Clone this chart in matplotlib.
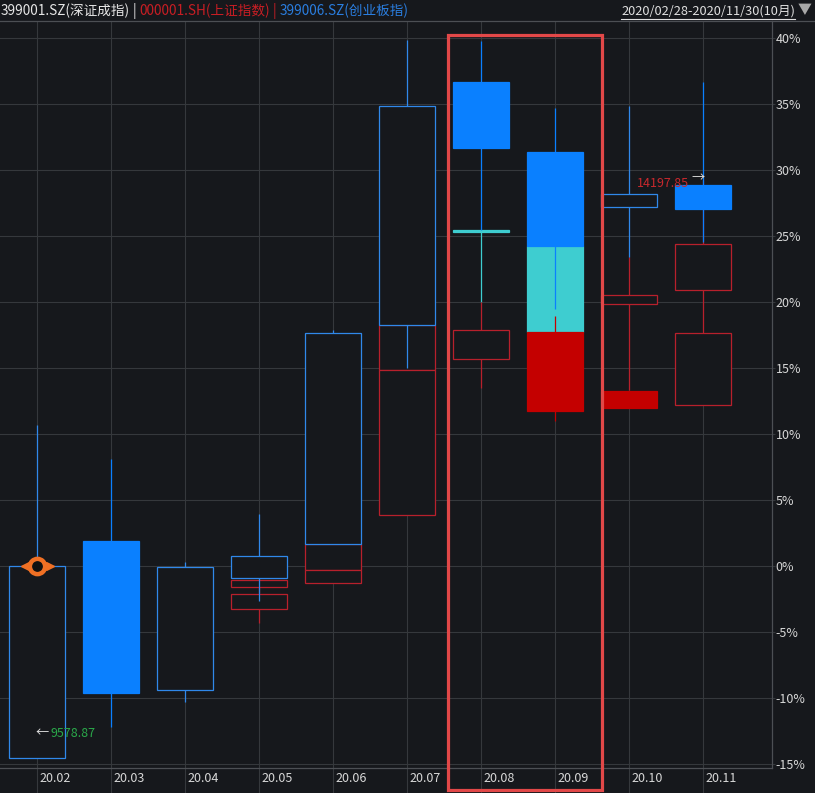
import numpy as np
import matplotlib
matplotlib.use('Agg')
import matplotlib.pyplot as plt
import matplotlib.transforms as mtransforms
from matplotlib.patches import Rectangle
from matplotlib.lines import Line2D

plt.rcParams['font.family'] = ['Noto Sans CJK SC', 'DejaVu Sans']

nan = np.nan
months = ['20.02', '20.03', '20.04', '20.05', '20.06', '20.07', '20.08', '20.09', '20.10', '20.11']

# 399006.SZ 创业板指 (% 涨跌幅)
cy_open = [-14.5, 1.9, -9.4, -0.85, 1.7, 18.3, 36.7, 31.4, 27.2, 28.9]
cy_close = [0.0, -9.6, -0.05, 0.75, 17.7, 34.9, 31.7, 24.3, 28.2, 27.1]
cy_high = [10.7, 8.1, 0.3, 4.0, 17.9, 39.9, 39.8, 34.7, 34.9, 36.7]
cy_low = [-14.5, -12.2, -10.3, -2.6, 1.7, 15.0, 25.5, 19.5, 23.4, 24.6]

# 000001.SH 上证指数
sh_open = [nan, nan, nan, -3.2, -1.3, 3.9, 15.7, 17.75, 13.3, 12.2]
sh_close = [nan, nan, nan, -2.1, -0.25, 14.9, 17.9, 11.8, 12.0, 17.7]
sh_high = [nan, nan, nan, -2.1, -0.25, 14.9, 20.05, 19.0, 13.3, 20.9]
sh_low = [nan, nan, nan, -4.3, -1.3, 3.9, 13.5, 11.0, 12.0, 12.2]

# 399001.SZ 深证成指 (主图)
sz_open = [nan, nan, nan, -1.6, -0.25, 14.9, 25.5, 24.3, 19.9, 20.9]
sz_close = [nan, nan, nan, -1.0, 1.7, 18.3, 25.3, 17.75, 20.55, 24.4]
sz_high = [nan, nan, nan, -1.0, 1.7, 18.3, 25.5, 24.3, 23.4, 29.3]
sz_low = [nan, nan, nan, -2.0, -0.25, 14.9, 20.05, 17.75, 13.35, 20.9]

# 最高/最低点标注
ext_month = ['20.11', '20.02']
ext_pct = [29.3, -12.7]
ext_text = ['14197.85', '9578.87']

highlight = ['20.08', '20.09']
yticks = [-15, -10, -5, 0, 5, 10, 15, 20, 25, 30, 35, 40]

BG = '#16181c'
GRID = '#35383c'
AXC = '#4c4f54'

W, H = 815, 793
fig = plt.figure(figsize=(W / 100, H / 100), dpi=100, facecolor=BG)
ax = fig.add_axes([0, 25 / H, 772 / W, (768 - 21) / H])
ax.set_facecolor(BG)

x = np.arange(len(months))
bw = 0.76


def candles(o, c, h, l, up_col, down_col, z):
    for i in range(len(o)):
        if np.isnan(o[i]):
            continue
        lo, hi = min(o[i], c[i]), max(o[i], c[i])
        if c[i] >= o[i]:
            ax.vlines(i, hi, h[i], color=up_col, lw=0.9, zorder=z)
            ax.vlines(i, l[i], lo, color=up_col, lw=0.9, zorder=z)
            ax.bar(i, hi - lo, bottom=lo, width=bw, facecolor=BG, edgecolor=up_col, lw=0.9, zorder=z + 0.5)
        else:
            ax.vlines(i, l[i], h[i], color=down_col, lw=0.9, zorder=z)
            ax.bar(i, hi - lo, bottom=lo, width=bw, facecolor=down_col, edgecolor=down_col, lw=0.9, zorder=z + 0.5)


candles(sz_open, sz_close, sz_high, sz_low, '#b8202c', '#3ecdd0', 2)
candles(sh_open, sh_close, sh_high, sh_low, '#b8202c', '#c40000', 4)
candles(cy_open, cy_close, cy_high, cy_low, '#3088ea', '#0a80ff', 6)

ax.set_xlim(-0.5, (772 - 37) / 74)
ax.set_ylim((566.3 - 768) / 13.2, (566.3 - 21) / 13.2)

ax.set_yticks(yticks)
ax.set_yticklabels([f'{v}%' for v in yticks])
ax.yaxis.tick_right()
ax.tick_params(axis='y', length=2.5, width=0.8, color=GRID, pad=0, labelcolor='#d8d8d8', labelsize=9)
ax.set_xticks(x)
ax.set_xticklabels(months)
ax.tick_params(axis='x', length=18, width=0.8, color=GRID, direction='out', pad=-15,
               labelcolor='#d8d8d8', labelsize=9)
off = mtransforms.ScaledTranslation(1.5 / 72, 0, fig.dpi_scale_trans)
for lab in ax.get_xticklabels():
    lab.set_horizontalalignment('left')
    lab.set_transform(lab.get_transform() + off)
ax.grid(True, color=GRID, lw=0.8, zorder=0)
ax.set_axisbelow(True)
for s in ['left', 'top']:
    ax.spines[s].set_visible(False)
for s in ['bottom', 'right']:
    ax.spines[s].set_color(AXC)
    ax.spines[s].set_linewidth(0.9)

# 基准点标记
ax.plot(0, 0, 'o', ms=11, mfc='#111111', mec='#f07024', mew=3.2, zorder=10)
for dx, m in [(-12.5, '<'), (12.5, '>')]:
    t = ax.transData + mtransforms.ScaledTranslation(dx / 100, 0, fig.dpi_scale_trans)
    ax.plot(0, 0, m, ms=5.5, color='#f07024', transform=t, zorder=10)

# 最高/最低点文字
i_hi = months.index(ext_month[0])
ax.annotate('→', (i_hi, ext_pct[0]), xytext=(1.5, 0.5), textcoords='offset points',
            ha='right', va='center', color='#e0e0e0', fontsize=9.5, zorder=12)
ax.annotate(ext_text[0], (i_hi, ext_pct[0]), xytext=(-10, -3), textcoords='offset points',
            ha='right', va='center', color='#c8282d', fontsize=9, zorder=12)
i_lo = months.index(ext_month[1])
ax.annotate('←', (i_lo, ext_pct[1]), xytext=(-1, 0), textcoords='offset points',
            ha='left', va='center', color='#e0e0e0', fontsize=9.5, zorder=12)
ax.annotate(ext_text[1], (i_lo, ext_pct[1]), xytext=(10, 0), textcoords='offset points',
            ha='left', va='center', color='#2aa84a', fontsize=9, zorder=12)

# 红色框
i0, i1 = months.index(highlight[0]), months.index(highlight[1])
tr = mtransforms.blended_transform_factory(ax.transData, ax.transAxes)
rect = Rectangle((i0 - 0.44, -0.0295), (i1 + 0.63) - (i0 - 0.44), 0.9809 + 0.0295,
                 transform=tr, fill=False, ec='#e24848', lw=2.3, clip_on=False, zorder=20)
ax.add_patch(rect)

# 顶部标题栏
fig.add_artist(Line2D([0, 1], [1 - 20.5 / H, 1 - 20.5 / H], color=AXC, lw=0.9))
renderer = fig.canvas.get_renderer()
pieces = [('399001.SZ(深证成指)', '#e6e6e6'), (' | ', '#e6e6e6'),
          ('000001.SH(上证指数)', '#c81e24'), (' | ', '#c81e24'),
          ('399006.SZ(创业板指)', '#2a7ee0')]
px = 1
for s, col in pieces:
    t = fig.text(px / W, 1 - 11 / H, s, color=col, fontsize=9.8, ha='left', va='center')
    px = t.get_window_extent(renderer).x1
t = fig.text(795 / W, 1 - 11 / H, '2020/02/28-2020/11/30(10月)', color='#e0e0e0',
             fontsize=9.2, ha='right', va='center')
bb = t.get_window_extent(renderer)
fig.add_artist(Line2D([bb.x0 / W, bb.x1 / W], [1 - 19 / H, 1 - 19 / H], color='#e0e0e0', lw=0.8))
fig.text(805 / W, 1 - 10 / H, '▼', color='#a8a8a8', fontsize=10, ha='center', va='center')

fig.savefig('out.png', dpi=100, facecolor=BG)
